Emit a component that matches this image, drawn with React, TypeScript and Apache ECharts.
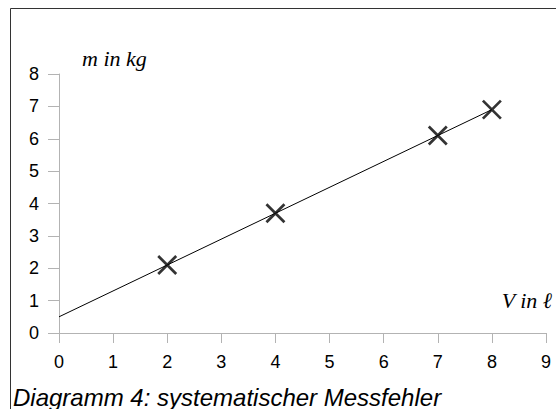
import React, { useEffect, useRef } from "react";
import * as echarts from "echarts";

const xTicks = [0, 1, 2, 3, 4, 5, 6, 7, 8, 9];
const yTicks = [0, 1, 2, 3, 4, 5, 6, 7, 8];
const measuredV = [2, 4, 7, 8];
const measuredM = [2.1, 3.7, 6.1, 6.9];
const fitV = [0, 8];
const fitM = [0.5, 6.9];
const yAxisName = "m in kg";
const xAxisName = "V in \u2113";
const caption = "Diagramm 4: systematischer Messfehler";

export default function App() {
  const ref = useRef<HTMLDivElement>(null);
  useEffect(() => {
    const chart = echarts.init(ref.current!, null, { renderer: "svg" });
    const axisColor = "#b3b3b3";
    const labelStyle = {
      color: "#000",
      fontSize: 18,
      fontFamily: "Liberation Sans, Arial, sans-serif",
    };
    chart.setOption({
      animation: false,
      backgroundColor: "#fff",
      grid: { left: 59, right: 10, top: 74, bottom: 76 },
      xAxis: {
        type: "value",
        min: xTicks[0],
        max: xTicks[xTicks.length - 1],
        interval: 1,
        axisLine: { show: true, lineStyle: { color: axisColor, width: 1 } },
        axisTick: { show: true, length: 10, lineStyle: { color: axisColor } },
        axisLabel: { ...labelStyle, margin: 20 },
        splitLine: { show: false },
      },
      yAxis: {
        type: "value",
        min: yTicks[0],
        max: yTicks[yTicks.length - 1],
        interval: 1,
        axisLine: { show: true, lineStyle: { color: axisColor, width: 1 } },
        axisTick: { show: true, length: 11, lineStyle: { color: axisColor } },
        axisLabel: { ...labelStyle, margin: 20 },
        splitLine: { show: false },
      },
      series: [
        {
          type: "line",
          data: fitV.map((v, i) => [v, fitM[i]]),
          showSymbol: false,
          symbol: "none",
          lineStyle: { color: "#000", width: 1 },
          z: 2,
        },
        {
          type: "scatter",
          data: measuredV.map((v, i) => [v, measuredM[i]]),
          symbol: "path://M0,0L10,10M10,0L0,10",
          symbolSize: 18,
          itemStyle: { color: "none", borderColor: "#000", borderWidth: 2.7 },
          z: 3,
        },
      ],
      graphic: [
        {
          type: "line",
          shape: { x1: 10.5, y1: 8.5, x2: 560, y2: 8.5 },
          style: { stroke: "#333", lineWidth: 1 },
          silent: true,
        },
        {
          type: "line",
          shape: { x1: 10.5, y1: 8.5, x2: 10.5, y2: 420 },
          style: { stroke: "#333", lineWidth: 1 },
          silent: true,
        },
        {
          type: "text",
          x: 82,
          y: 69,
          style: {
            text: yAxisName,
            fill: "#000",
            font: "italic 22px 'Liberation Serif', 'Times New Roman', serif",
            textAlign: "left",
            textVerticalAlign: "bottom",
          },
        },
        {
          type: "text",
          x: 552,
          y: 311,
          style: {
            text: xAxisName,
            fill: "#000",
            font: "italic 22px 'Liberation Serif', 'Times New Roman', serif",
            textAlign: "right",
            textVerticalAlign: "bottom",
          },
        },
        {
          type: "text",
          x: 13,
          y: 409,
          style: {
            text: caption,
            fill: "#000",
            font: "italic 24px 'Liberation Sans', Arial, sans-serif",
            textAlign: "left",
            textVerticalAlign: "bottom",
          },
        },
      ],
    });
    return () => chart.dispose();
  }, []);
  return (
    <div
      ref={ref}
      style={{ position: "fixed", left: 0, top: 0, width: 556, height: 409 }}
    />
  );
}
